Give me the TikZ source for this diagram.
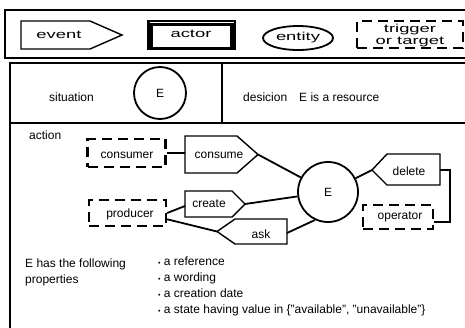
\documentclass[tikz,border=0pt]{standalone}
\usepackage{fontspec}
\setmainfont{Liberation Sans}
\newfontfamily\legendfont[FakeStretch=1.6]{Liberation Sans}
\usetikzlibrary{calc,shapes.geometric}

\begin{document}
\begin{tikzpicture}[x=1pt,y=-1pt,
  frame/.style={line width=1.8pt},
  outline/.style={line width=1.4pt},
  link/.style={line width=1.8pt},
  dashbox/.style={draw, line width=2.3pt, dash pattern=on 10pt off 6pt, inner sep=0pt},
  lbl/.style={font=\fontsize{12}{16}\selectfont, inner sep=0pt},
  leg/.style={font=\legendfont\fontsize{11.5}{12}\selectfont, inner sep=0pt, align=center},
  round/.style={draw, circle, line width=1.8pt, inner sep=0pt},
]
\useasboundingbox (0,0) rectangle (465,327);
\fill[white] (0,0) rectangle (465,327);
\clip (0,0) rectangle (465,327);

% ---------- legend ----------
\draw[frame] (5,10) rectangle (475,58);
% event
\draw[outline] (21,21) -- (90,21) -- (122,35) -- (90,49) -- (21,49) -- cycle;
\node[leg] (levent) at (59,35) {event};
% actor: heavy frame with a thin inner rule along the top
\fill (147,20) rectangle (236,50);
\fill[white] (153,25.5) rectangle (230,46.5);
\fill[white] (149.5,21.6) rectangle (233.5,23.2);
\node[leg] (lactor) at (191,34) {actor};
% entity
\node[leg, draw, ellipse, line width=1.8pt, minimum width=70pt, minimum height=24pt]
  (lentity) at (298,38) {entity};
% trigger or target
\node[dashbox, minimum width=106pt, minimum height=27pt] (ltrig) at (410,34.5) {};
\node[leg] (ltrigtxt) at (410,35.5) {trigger\\or target};

% ---------- main frame ----------
\draw[frame] (10,63) rectangle (475,340);
\draw[frame] (10,123) -- (475,123);
\draw[frame] (222,63) -- (222,123);

% situation / decision row
\node[lbl] (sit) at (71.5,97) {situation};
\node[round, minimum size=52pt, font=\fontsize{12}{14}\selectfont] (sitE) at (160,93) {E};
\node[lbl, anchor=west] (dec) at (243,97) {desicion\quad E is a resource};

% action area
\node[lbl, anchor=west] (act) at (29,135) {action};

\node[dashbox, minimum width=78pt, minimum height=28pt] (cons) at (126.5,153) {};
\node[lbl] (constxt) at (127,155) {consumer};

\draw[outline] (185,136) -- (237,136) -- (258,154.5) -- (237,173) -- (185,173) -- cycle;
\node[lbl] (consume) at (219,155) {consume};
\coordinate (consume-in) at (185,155);
\coordinate (consume-tip) at (258,154.5);

\draw[outline] (185,191) -- (232,191) -- (245,204) -- (232,217) -- (185,217) -- cycle;
\node[lbl] (create) at (209,204) {create};
\coordinate (create-in) at (185,206);
\coordinate (create-tip) at (245,204);

\node[dashbox, minimum width=77pt, minimum height=26pt] (prod) at (127.5,213) {};
\node[lbl] (prodtxt) at (130,214) {producer};

\draw[outline] (217,231.5) -- (235,219) -- (287,219) -- (287,244) -- (235,244) -- cycle;
\node[lbl] (ask) at (261,234) {ask};
\coordinate (ask-tip) at (217,231.5);
\coordinate (ask-out) at (287,233);

\node[round, minimum size=60pt, font=\fontsize{12}{14}\selectfont] (E) at (328,192) {E};

\draw[outline] (372,170) -- (387,154) -- (440,154) -- (440,185) -- (387,185) -- cycle;
\node[lbl] (delete) at (409,171) {delete};
\coordinate (delete-tip) at (372,170);
\coordinate (delete-out) at (440,170);

\node[dashbox, minimum width=70pt, minimum height=24pt] (oper) at (398,217) {};
\node[lbl] (opertxt) at (400,217) {operator};

% connectors
\draw[link] (cons.east) -- (cons.east -| consume-in);
\draw[link] (consume-tip) -- (E);
\draw[link] (prod.east) -- (create-in);
\draw[link] (create-tip) -- (E);
\draw[link] (prod.-9) -- (ask-tip);
\draw[link] (ask-out) -- (E.245);
\draw[link] (E) -- (delete-tip);
\draw[link] (delete-out) -- ++(10,0) |- (oper.-8);

% properties
\node[lbl, anchor=north west, align=left] (props) at (25,258.5)
  {E has the following\\properties};
\node[lbl, anchor=north west, align=left] (plist) at (158,256.5)
  {{\fontsize{7}{7}\selectfont\textbullet}\ a reference\\
   {\fontsize{7}{7}\selectfont\textbullet}\ a wording\\
   {\fontsize{7}{7}\selectfont\textbullet}\ a creation date\\
   {\fontsize{7}{7}\selectfont\textbullet}\ a state having value in \{"available", "unavailable"\}};
\end{tikzpicture}
\end{document}
